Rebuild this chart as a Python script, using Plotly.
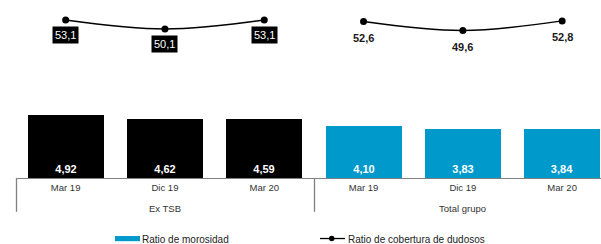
import plotly.graph_objects as go

categories = ["Mar 19", "Dic 19", "Mar 20", "Mar 19", "Dic 19", "Mar 20"]
groups = ["Ex TSB", "Total grupo"]
morosidad_ex_tsb = [4.92, 4.62, 4.59]
morosidad_total = [4.10, 3.83, 3.84]
cobertura_ex_tsb = [53.1, 50.1, 53.1]
cobertura_total = [52.6, 49.6, 52.8]

def fmt(v, d):
    return f"{v:.{d}f}".replace(".", ",")

FONT = "Arial, Liberation Sans, sans-serif"
BLUE = "#0099CC"

x_ex = [0, 1, 2]
x_tot = [3, 4, 5]

fig = go.Figure()
fig.add_trace(go.Bar(
    x=x_ex, y=morosidad_ex_tsb, marker=dict(color="#000000", line=dict(width=0)),
    width=0.765, text=[fmt(v, 2) for v in morosidad_ex_tsb],
    textposition="inside", insidetextanchor="start",
    textfont=dict(family=FONT, size=11, color="white", weight="bold"),
    showlegend=False, name="Ratio de morosidad"))
fig.add_trace(go.Bar(
    x=x_tot, y=morosidad_total, marker=dict(color=BLUE, line=dict(width=0)),
    width=0.765, text=[fmt(v, 2) for v in morosidad_total],
    textposition="inside", insidetextanchor="start",
    textfont=dict(family=FONT, size=11, color="white", weight="bold"),
    showlegend=False, name="Ratio de morosidad"))
fig.add_trace(go.Scatter(
    x=x_ex, y=cobertura_ex_tsb, yaxis="y2", mode="lines+markers",
    line=dict(color="#000000", width=1.3, shape="spline"),
    marker=dict(size=7, color="#000000"), showlegend=False,
    name="Ratio de cobertura de dudosos"))
fig.add_trace(go.Scatter(
    x=x_tot, y=cobertura_total, yaxis="y2", mode="lines+markers",
    line=dict(color="#000000", width=1.3, shape="spline"),
    marker=dict(size=7, color="#000000"), showlegend=False,
    name="Ratio de cobertura de dudosos"))

annotations = []
for xv, v in zip(x_ex, cobertura_ex_tsb):
    annotations.append(dict(
        x=xv, y=v, xref="x", yref="y2", text=fmt(v, 1), showarrow=False,
        yshift=-15, bgcolor="#000000", borderpad=2,
        font=dict(family=FONT, size=11, color="white")))
for xv, v in zip(x_tot, cobertura_total):
    annotations.append(dict(
        x=xv, y=v, xref="x", yref="y2", text=fmt(v, 1), showarrow=False,
        yshift=-16.5,
        font=dict(family=FONT, size=11, color="#1a1a1a", weight="bold")))
for gi, g in enumerate(groups):
    annotations.append(dict(
        x=1 + 3 * gi, y=-0.17, xref="x", yref="paper", text=g, showarrow=False,
        yanchor="middle", font=dict(family=FONT, size=9.5, color="#333333")))

L = 16
W = 601 - L
def px(xp):
    return (xp - L) / W

# legend (custom)
annotations.append(dict(x=px(140), y=-0.345, xref="paper", yref="paper",
                        xanchor="left", yanchor="middle", showarrow=False,
                        text="Ratio de morosidad",
                        font=dict(family=FONT, size=10, color="#222222")))
annotations.append(dict(x=px(346), y=-0.345, xref="paper", yref="paper",
                        xanchor="left", yanchor="middle", showarrow=False,
                        text="Ratio de cobertura de dudosos",
                        font=dict(family=FONT, size=10, color="#222222")))

shapes = [
    dict(type="line", xref="paper", yref="paper", x0=px(16.5), x1=px(16.5),
         y0=0, y1=-0.19, line=dict(color="#808080", width=1.3)),
    dict(type="line", xref="paper", yref="paper", x0=px(314.5), x1=px(314.5),
         y0=0, y1=-0.19, line=dict(color="#808080", width=1.3)),
    dict(type="rect", xref="paper", yref="paper", x0=px(115), x1=px(140),
         y0=-0.326, y1=-0.355, fillcolor=BLUE, line=dict(width=0)),
    dict(type="line", xref="paper", yref="paper", x0=px(320), x1=px(345),
         y0=-0.34, y1=-0.34, line=dict(color="#000000", width=1.3)),
    dict(type="circle", xref="paper", yref="paper", x0=px(329), x1=px(334.5),
         y0=-0.325, y1=-0.356, fillcolor="#000000", line=dict(width=0)),
]

fig.update_layout(
    width=601, height=244,
    margin=dict(l=L, r=0, t=0, b=66),
    paper_bgcolor="white", plot_bgcolor="white",
    bargap=0, showlegend=False,
    xaxis=dict(range=[-0.5, -0.5 + W / 99.3], tickvals=list(range(6)),
               ticktext=categories, showgrid=False, zeroline=False,
               showline=True, linecolor="#808080", linewidth=1.3,
               ticks="", tickfont=dict(family=FONT, size=9.5, color="#333333")),
    yaxis=dict(range=[0, 13.9], visible=False),
    yaxis2=dict(range=[0.43, 59.77], overlaying="y", visible=False),
    annotations=annotations, shapes=shapes,
)

fig.write_html("out.html", config={"displayModeBar": False},
               post_script="document.body.style.margin='0px';document.body.style.overflow='hidden';")
